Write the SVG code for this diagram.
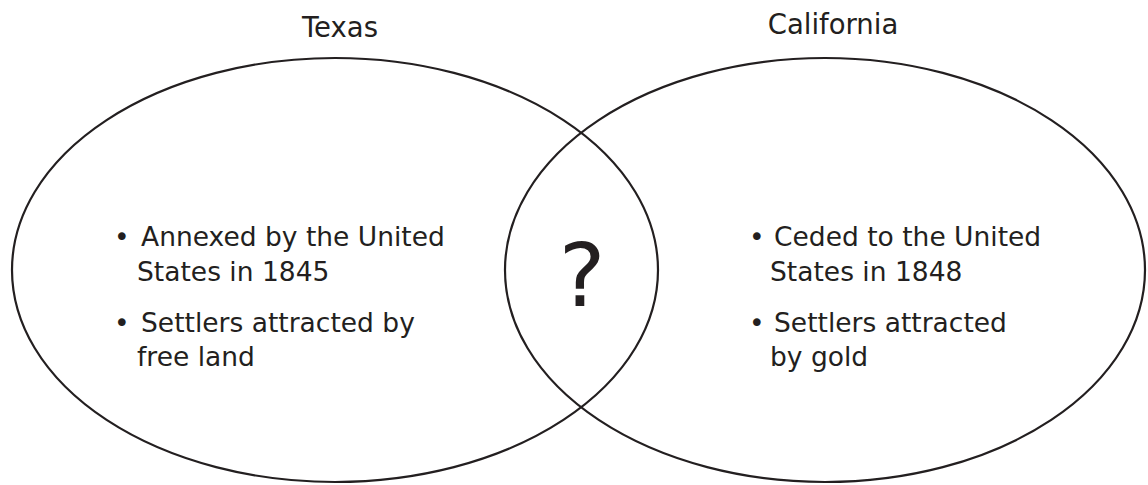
<svg xmlns="http://www.w3.org/2000/svg" width="1148" height="485" viewBox="0 0 1148 485">
<style>
.e{fill:none;stroke:#231f20;stroke-width:2.2}
.t{font-family:"DejaVu Sans",Verdana,sans-serif;fill:#231f20;font-size:26.5px}
.h{font-family:"DejaVu Sans",Verdana,sans-serif;fill:#231f20;font-size:27.5px}
.q{font-family:"DejaVu Sans",Verdana,sans-serif;fill:#231f20;font-size:88px}
</style>
<rect width="1148" height="485" fill="#fff"/>
<g id="texas">
<ellipse class="e" cx="335" cy="270" rx="323" ry="212"/>
<text class="h" x="340" y="37" text-anchor="middle">Texas</text>
<text class="t" x="114" y="246">•</text>
<text class="t" x="141" y="246">Annexed by the United</text>
<text class="t" x="137" y="281">States in 1845</text>
<text class="t" x="114" y="332">•</text>
<text class="t" x="141" y="332">Settlers attracted by</text>
<text class="t" x="137" y="366">free land</text>
</g>
<g id="california">
<ellipse class="e" cx="825" cy="270" rx="320" ry="212"/>
<text class="h" x="833" y="34" text-anchor="middle">California</text>
<text class="t" x="749" y="246">•</text>
<text class="t" x="774" y="246">Ceded to the United</text>
<text class="t" x="770" y="281">States in 1848</text>
<text class="t" x="749" y="332">•</text>
<text class="t" x="774" y="332">Settlers attracted</text>
<text class="t" x="770" y="366">by gold</text>
</g>
<g id="overlap">
<text class="q" x="582" y="306" text-anchor="middle">?</text>
</g>
<g id="connectors"/>
</svg>
